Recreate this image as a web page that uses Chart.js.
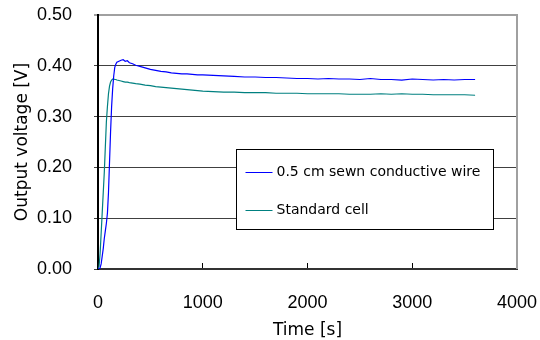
<!DOCTYPE html>
<html>
<head>
<meta charset="utf-8">
<script src="https://cdn.jsdelivr.net/npm/chart.js@4.4.0/dist/chart.umd.min.js"></script>
<style>
  html, body { margin: 0; padding: 0; background: #fff; }
  #wrap { width: 540px; height: 340px; }
</style>
</head>
<body>
<div id="wrap"><canvas id="chart-line" width="540" height="340"></canvas></div>
<script>
// elapsed time [s]
var timeS = [0, 10, 20, 30, 40, 50, 60, 70, 80, 90, 100, 110, 120, 130, 140, 150, 160, 170, 180,
    200, 220, 240, 260, 280, 300, 330, 360,
    400, 450, 500, 550, 600, 650, 700, 750, 800, 850, 900, 950, 1000,
    1100, 1200, 1300, 1400, 1500, 1600, 1700, 1800, 1900, 2000,
    2100, 2200, 2300, 2400, 2500, 2600, 2700, 2800, 2900, 3000,
    3100, 3200, 3300, 3400, 3500, 3600];

// output voltage [V]
var wireV = [0, 0, 0.002, 0.01, 0.025, 0.04, 0.06, 0.075, 0.09, 0.11, 0.15, 0.21, 0.27, 0.32, 0.355, 0.38, 0.397, 0.403, 0.407,
    0.409, 0.411, 0.412, 0.409, 0.410, 0.406, 0.404, 0.401,
    0.399, 0.396, 0.393, 0.391, 0.389, 0.388, 0.386, 0.385, 0.384, 0.384, 0.383, 0.382, 0.382,
    0.381, 0.380, 0.379, 0.378, 0.378, 0.377, 0.377, 0.376, 0.375, 0.375,
    0.374, 0.375, 0.374, 0.374, 0.373, 0.375, 0.373, 0.373, 0.372, 0.374,
    0.373, 0.372, 0.373, 0.372, 0.373, 0.373];

var standardV = [0, 0.005, 0.03, 0.07, 0.11, 0.15, 0.19, 0.24, 0.29, 0.32, 0.345, 0.36, 0.368, 0.372, 0.374, 0.374, 0.373, 0.373, 0.372,
    0.371, 0.370, 0.369, 0.368, 0.368, 0.367, 0.366, 0.365,
    0.364, 0.362, 0.361, 0.359, 0.358, 0.357, 0.356, 0.355, 0.354, 0.353, 0.352, 0.351, 0.350,
    0.349, 0.348, 0.348, 0.347, 0.347, 0.347, 0.346, 0.346, 0.346, 0.345,
    0.345, 0.345, 0.345, 0.344, 0.344, 0.344, 0.345, 0.344, 0.345, 0.344,
    0.344, 0.343, 0.343, 0.343, 0.343, 0.342];

var seriesLabels = ['0.5 cm sewn conductive wire', 'Standard cell'];
var xTicks = [0, 1000, 2000, 3000, 4000];
var yTicks = [0, 0.1, 0.2, 0.3, 0.4, 0.5];

function toPoints(xs, ys) {
    var pts = [];
    for (var i = 0; i < xs.length; i++) pts.push({x: xs[i], y: ys[i]});
    return pts;
}

// right frame + legend box drawn inside the plot
var framePlugin = {
    id: 'frame',
    afterDraw: function(chart) {
        var ctx = chart.ctx, ca = chart.chartArea;
        ctx.save();
        ctx.strokeStyle = '#a0a0a0';
        ctx.lineWidth = 2;
        ctx.beginPath();
        ctx.moveTo(ca.right, ca.top - 1);
        ctx.lineTo(ca.right, ca.bottom);
        ctx.stroke();

        var w = ca.right - ca.left, h = ca.bottom - ca.top;
        var bx = Math.round(ca.left + 0.329 * w) + 0.5;
        var by = Math.round(ca.top + 0.528 * h) + 0.5;
        var bw = Math.round(0.614 * w);
        var bh = Math.round(0.315 * h);
        ctx.fillStyle = '#fff';
        ctx.fillRect(bx, by, bw, bh);
        ctx.strokeStyle = '#000';
        ctx.lineWidth = 1;
        ctx.strokeRect(bx, by, bw, bh);

        ctx.font = '14px "DejaVu Sans"';
        ctx.textBaseline = 'middle';
        var rows = [by + 23, by + 61];
        chart.data.datasets.forEach(function(ds, i) {
            ctx.strokeStyle = ds.borderColor;
            ctx.lineWidth = 1;
            ctx.beginPath();
            ctx.moveTo(bx + 9, rows[i]);
            ctx.lineTo(bx + 36, rows[i]);
            ctx.stroke();
            ctx.fillStyle = '#000';
            ctx.fillText(ds.label, bx + 40, rows[i]);
        });
        ctx.restore();
    }
};

var tickFont = { family: '"Liberation Sans"', size: 18 };

function render_chart() {
    var ctx = document.getElementById('chart-line');
    var myLineChart = new Chart(ctx, {
        type: 'line',
        data: {
            datasets: [{
                label: seriesLabels[0],
                data: toPoints(timeS, wireV),
                borderColor: '#0000ff',
                borderWidth: 1.2,
                pointRadius: 0,
                fill: false,
                tension: 0
            }, {
                label: seriesLabels[1],
                data: toPoints(timeS, standardV),
                borderColor: '#008080',
                borderWidth: 1.2,
                pointRadius: 0,
                fill: false,
                tension: 0
            }]
        },
        plugins: [framePlugin],
        options: {
            responsive: false,
            animation: false,
            layout: { padding: 0 },
            plugins: {
                legend: { display: false },
                tooltip: { enabled: false }
            },
            scales: {
                x: {
                    type: 'linear',
                    min: 0,
                    max: 4000,
                    afterBuildTicks: function(scale) {
                        scale.ticks = xTicks.map(function(v) { return {value: v}; });
                    },
                    afterFit: function(scale) {
                        scale.height = 71;
                        scale.paddingLeft = 0;
                        scale.paddingRight = 23;
                    },
                    grid: {
                        drawOnChartArea: false,
                        drawTicks: true,
                        tickLength: -6,
                        color: '#000',
                        lineWidth: 1
                    },
                    border: { display: true, color: '#333', width: 2 },
                    ticks: {
                        padding: 29,
                        color: '#000',
                        maxRotation: 0,
                        font: tickFont,
                        callback: function(v) { return String(v); }
                    },
                    title: {
                        display: true,
                        text: 'Time [s]',
                        color: '#000',
                        padding: { top: 0, bottom: -1 },
                        font: { family: '"DejaVu Sans"', size: 17 }
                    }
                },
                y: {
                    min: 0,
                    max: 0.5,
                    afterBuildTicks: function(scale) {
                        scale.ticks = yTicks.map(function(v) { return {value: v}; });
                    },
                    afterFit: function(scale) {
                        scale.width = 98;
                        scale.paddingTop = 15;
                        scale.paddingBottom = 0;
                    },
                    grid: {
                        drawTicks: true,
                        tickLength: 4,
                        color: function(c) {
                            return (c.tick && c.tick.value === 0.5) ? '#a0a0a0' : '#404040';
                        },
                        lineWidth: function(c) {
                            return (c.tick && c.tick.value === 0.5) ? 2 : 1;
                        }
                    },
                    border: { display: true, color: '#000', width: 2 },
                    ticks: {
                        padding: 22,
                        color: '#000',
                        font: tickFont,
                        callback: function(v) { return Number(v).toFixed(2); }
                    },
                    title: {
                        display: true,
                        text: 'Output voltage [V]',
                        color: '#000',
                        padding: { top: 12, bottom: 0 },
                        font: { family: '"DejaVu Sans"', size: 17 }
                    }
                }
            }
        }
    });
}
render_chart();
</script>
</body>
</html>
